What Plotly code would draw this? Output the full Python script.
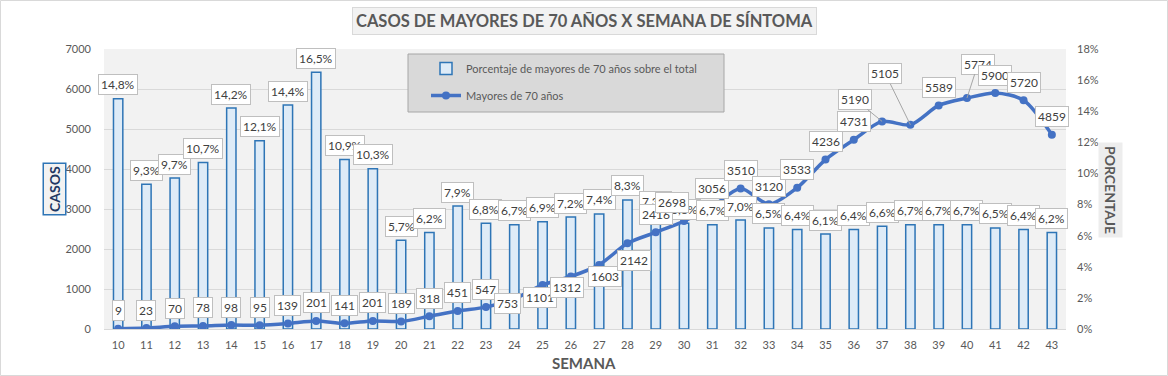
import plotly.graph_objects as go

# ---------------- data ----------------
weeks = list(range(10, 44))
mayores_70 = [9, 23, 70, 78, 98, 95, 139, 201, 141, 201,
              189, 318, 451, 547, 753, 1101, 1312, 1603, 2142, 2416,
              2698, 3056, 3510, 3120, 3533, 4236, 4731, 5190, 5105, 5589,
              5774, 5900, 5720, 4859]
porcentaje = [14.8, 9.3, 9.7, 10.7, 14.2, 12.1, 14.4, 16.5, 10.9, 10.3,
              5.7, 6.2, 7.9, 6.8, 6.7, 6.9, 7.2, 7.4, 8.3, 7.3,
              6.8, 6.7, 7.0, 6.5, 6.4, 6.1, 6.4, 6.6, 6.7, 6.7,
              6.7, 6.5, 6.4, 6.2]
y_left_ticks = [0, 1000, 2000, 3000, 4000, 5000, 6000, 7000]
y_right_ticks = [0, 2, 4, 6, 8, 10, 12, 14, 16, 18]

TITLE = "CASOS DE MAYORES DE 70 AÑOS X SEMANA DE SÍNTOMA"
NAME_BAR = "Porcentaje de mayores de 70 años sobre el total"
NAME_LINE = "Mayores de 70 años"

# ---------------- styling ----------------
FONT = "Lato"
GRAY = "#595959"
LABEL_TXT = "#404040"
W, H = 1168, 376
ML, MR, MT, MB = 104, 102, 49, 47
PW, PH = W - ML - MR, H - MT - MB

# label offsets for the line labels (pixels: dx right, dy up); arrows use (ax, ay)
line_label_shift = {24: (-7, -5), 25: (-3, -13), 26: (-4, -11), 27: (6, -12),
                    28: (7, -17), 30: (-12, 19)}
line_label_arrow = {37: (-27, -22), 38: (-25, -51), 40: (11, -34)}


def px_to_paper_x(px):
    return (px - ML) / PW


def px_to_paper_y(py):
    return (H - MB - py) / PH


fig = go.Figure()

fig.add_trace(go.Bar(
    x=weeks, y=porcentaje, yaxis="y", name=NAME_BAR, width=0.33,
    marker=dict(color="#deebf7", line=dict(color="#2e75b6", width=1.5)),
    legendgroup="a", hoverinfo="skip"))

fig.add_trace(go.Scatter(
    x=weeks, y=mayores_70, yaxis="y2", name=NAME_LINE, mode="lines+markers",
    line=dict(color="#4472c4", width=3.5, shape="spline", smoothing=0.8),
    marker=dict(size=8, color="#4472c4"),
    legendgroup="b", hoverinfo="skip"))

annotations = []
box = dict(bgcolor="white", bordercolor="#bfbfbf", borderwidth=1, borderpad=2,
           font=dict(family=FONT, size=12, color=LABEL_TXT))

# bar (percentage) labels
for w, p in zip(weeks, porcentaje):
    annotations.append(dict(x=w, y=p, xref="x", yref="y", showarrow=False,
                            text=f"{p:.1f}".replace(".", ",") + "%",
                            yshift=14, **box))

# line labels (drawn on top)
for w, v in zip(weeks, mayores_70):
    if w in line_label_arrow:
        ax, ay = line_label_arrow[w]
        annotations.append(dict(x=w, y=v, xref="x", yref="y2", showarrow=True,
                                text=str(v), ax=ax, ay=ay, arrowhead=0,
                                arrowwidth=1, arrowcolor="#a6a6a6", standoff=0,
                                **box))
    else:
        dx, dy = line_label_shift.get(w, (0, 18))
        annotations.append(dict(x=w, y=v, xref="x", yref="y2", showarrow=False,
                                text=str(v), xshift=dx, yshift=dy, **box))

centered = dict(xref="paper", yref="paper", xanchor="center", yanchor="middle", showarrow=False)
# title
annotations.append(dict(x=px_to_paper_x(584), y=px_to_paper_y(21),
                        text=f"<b>{TITLE}</b>",
                        font=dict(family=FONT, size=16.5, color=GRAY),
                        bgcolor="#f2f2f2", bordercolor="#d9d9d9", borderwidth=1, borderpad=3,
                        **centered))
# axis titles
annotations.append(dict(x=px_to_paper_x(54.5), y=px_to_paper_y(189),
                        text="<b>CASOS</b>", textangle=-90,
                        font=dict(family=FONT, size=14, color="#1f3864"),
                        bgcolor="#f2f2f2", bordercolor="#2e75b6", borderwidth=1.5, borderpad=2,
                        **centered))
annotations.append(dict(x=px_to_paper_x(1111), y=px_to_paper_y(190),
                        text="<b>PORCENTAJE</b>", textangle=90,
                        font=dict(family=FONT, size=14, color=GRAY),
                        bgcolor="#ededed", borderpad=3, **centered))
annotations.append(dict(x=px_to_paper_x(584), y=px_to_paper_y(363),
                        text="<b>SEMANA</b>",
                        font=dict(family=FONT, size=15, color=GRAY), **centered))

shapes = [
    # legend box
    dict(type="rect", xref="paper", yref="paper", layer="above",
         x0=px_to_paper_x(408), x1=px_to_paper_x(724),
         y0=px_to_paper_y(112), y1=px_to_paper_y(54),
         fillcolor="#d9d9d9", line=dict(color="#a6a6a6", width=1)),
    # outer chart border
    dict(type="rect", xref="paper", yref="paper", layer="above",
         x0=px_to_paper_x(0.5), x1=px_to_paper_x(W - 0.5),
         y0=px_to_paper_y(H - 0.5), y1=px_to_paper_y(0.5),
         line=dict(color="#d9d9d9", width=1)),
]

fig.update_layout(
    width=W, height=H,
    margin=dict(l=ML, r=MR, t=MT, b=MB, pad=0),
    paper_bgcolor="white", plot_bgcolor="#f2f2f2",
    font=dict(family=FONT, size=11, color=GRAY),
    showlegend=True,
    legend=dict(x=px_to_paper_x(426), y=px_to_paper_y(54), xanchor="left", yanchor="top",
                bgcolor="rgba(0,0,0,0)", font=dict(family=FONT, size=11, color=GRAY),
                tracegroupgap=8, traceorder="grouped"),
    xaxis=dict(range=[9.5, 43.5], tickmode="array", tickvals=weeks,
               showgrid=False, zeroline=False, showline=True, linecolor="#d9d9d9",
               ticks="", tickfont=dict(size=11, color=GRAY), ticklabelstandoff=6),
    yaxis=dict(side="right", range=[0, 18], tickmode="array", tickvals=y_right_ticks,
               ticktext=[f"{t}%" for t in y_right_ticks],
               showgrid=False, zeroline=False, showline=False, ticks="",
               tickfont=dict(size=11, color=GRAY), ticklabelstandoff=10),
    yaxis2=dict(side="left", overlaying="y", range=[0, 7000], tickmode="array",
                tickvals=y_left_ticks, showgrid=True, gridcolor="#d9d9d9", gridwidth=1,
                zeroline=False, showline=False, ticks="",
                tickfont=dict(size=11, color=GRAY), ticklabelstandoff=12),
    annotations=annotations,
    shapes=shapes,
)

fig.write_html("out.html", config={"displayModeBar": False},
               post_script="document.body.style.margin='0';document.body.style.overflow='hidden';")
